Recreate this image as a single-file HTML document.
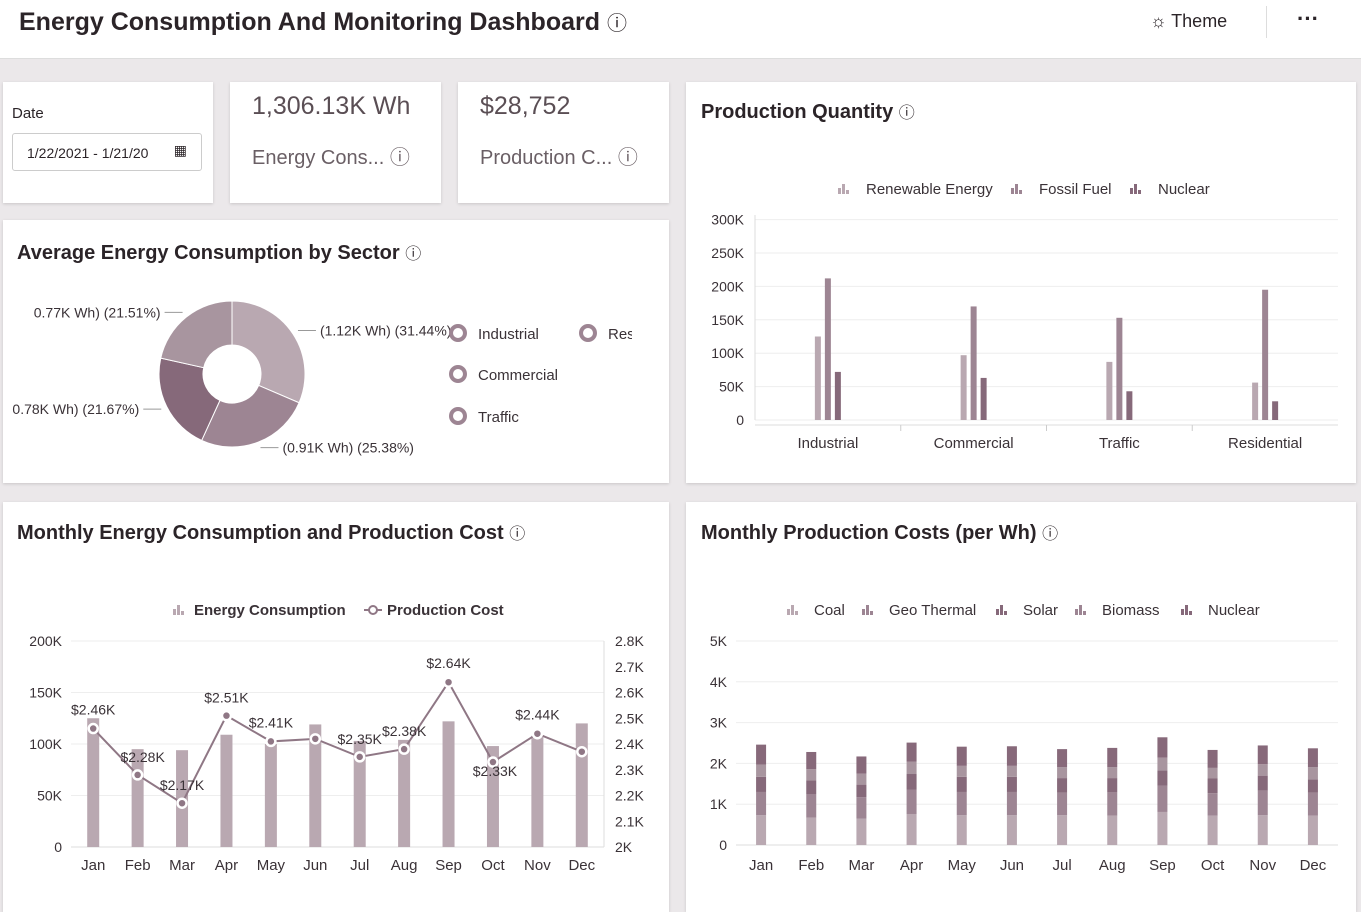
<!DOCTYPE html>
<html><head><meta charset="utf-8"><style>
body{margin:0;width:1361px;height:907px;background:#ebe8ea;font-family:"Liberation Sans",sans-serif;color:#2b2428;position:relative;overflow:hidden}
.card{position:absolute;background:#fff;box-shadow:0 1px 3px rgba(0,0,0,.15)}
.t{position:absolute;white-space:nowrap}
svg text{font-family:"Liberation Sans",sans-serif}
</style></head><body>
<div style="position:absolute;left:0;top:0;width:1361px;height:58px;background:#fff;border-bottom:1px solid #ddd"></div>
<div class="t" style="left:19px;top:7px;font-size:25px;font-weight:bold">Energy Consumption And Monitoring Dashboard <span style="font-weight:normal;font-size:20px">ⓘ</span></div>
<div class="t" style="left:1150px;top:11px;font-size:18px">☼ Theme</div>
<div style="position:absolute;left:1266px;top:6px;width:1px;height:32px;background:#ddd"></div>
<div class="t" style="left:1297px;top:6px;font-size:22px;font-weight:bold">···</div>

<div class="card" style="left:3px;top:82px;width:210px;height:121px"></div>
<div class="t" style="left:12px;top:105px;font-size:15px">Date</div>
<div style="position:absolute;left:12px;top:133px;width:190px;height:38px;border:1px solid #ccc;border-radius:3px;font-size:14px;line-height:38px;padding-left:14px;box-sizing:border-box;overflow:hidden">1/22/2021 - 1/21/20 <span style="position:absolute;right:14px;top:-3px">▦</span></div>

<div class="card" style="left:230px;top:82px;width:211px;height:121px"></div>
<div class="t" style="left:252px;top:92px;font-size:25px;color:#5a4e54">1,306.13K Wh</div>
<div class="t" style="left:252px;top:141px;font-size:20px;color:#6a5f65">Energy Cons... ⓘ</div>
<div class="card" style="left:458px;top:82px;width:211px;height:121px"></div>
<div class="t" style="left:480px;top:92px;font-size:25px;color:#5a4e54">$28,752</div>
<div class="t" style="left:480px;top:141px;font-size:20px;color:#6a5f65">Production C... ⓘ</div>

<div class="card" style="left:3px;top:220px;width:666px;height:263px"></div>
<div class="t" style="left:17px;top:240px;font-size:20px;font-weight:bold">Average Energy Consumption by Sector <span style="font-weight:normal;font-size:16px">ⓘ</span></div>
<div class="card" style="left:686px;top:82px;width:670px;height:401px"></div>
<div class="t" style="left:701px;top:99px;font-size:20px;font-weight:bold">Production Quantity <span style="font-weight:normal;font-size:16px">ⓘ</span></div>
<div class="card" style="left:3px;top:502px;width:666px;height:410px"></div>
<div class="t" style="left:17px;top:520px;font-size:20px;font-weight:bold">Monthly Energy Consumption and Production Cost <span style="font-weight:normal;font-size:16px">ⓘ</span></div>
<div class="card" style="left:686px;top:502px;width:670px;height:410px"></div>
<div class="t" style="left:701px;top:520px;font-size:20px;font-weight:bold">Monthly Production Costs (per Wh) <span style="font-weight:normal;font-size:16px">ⓘ</span></div>

<svg id="s" width="1361" height="907" style="position:absolute;left:0;top:0"></svg>
<script>
// Donut
const sectorNames=["Residential","Industrial","Commercial","Traffic"];
const sectorPct=[31.44,25.38,21.67,21.51];
const sectorLabels=["(1.12K Wh) (31.44%)","(0.91K Wh) (25.38%)","0.78K Wh) (21.67%)","0.77K Wh) (21.51%)"];
// Production quantity
const pqCats=["Industrial","Commercial","Traffic","Residential"];
const pqRenew=[125,97,87,56];
const pqFossil=[212,170,153,195];
const pqNuclear=[72,63,43,28];
const pqTicks=[0,50,100,150,200,250,300];
// Monthly
const months=["Jan","Feb","Mar","Apr","May","Jun","Jul","Aug","Sep","Oct","Nov","Dec"];
const energy=[125,95,94,109,100,119,103,104,122,98,108,120];
const cost=[2.46,2.28,2.17,2.51,2.41,2.42,2.35,2.38,2.64,2.33,2.44,2.37];
const leftTicks=[0,50,100,150,200];
const rightTicks=[2,2.1,2.2,2.3,2.4,2.5,2.6,2.7,2.8];
// Costs stacked (K)
const coal=[0.73,0.67,0.65,0.76,0.73,0.73,0.73,0.72,0.81,0.72,0.73,0.72];
const geo=[0.57,0.58,0.52,0.60,0.57,0.57,0.55,0.57,0.64,0.55,0.60,0.56];
const solar=[0.37,0.33,0.31,0.38,0.37,0.37,0.36,0.35,0.38,0.36,0.37,0.33];
const biomass=[0.30,0.28,0.27,0.30,0.27,0.27,0.27,0.27,0.31,0.26,0.28,0.30];
const nuclearC=[0.49,0.42,0.42,0.47,0.47,0.48,0.44,0.47,0.50,0.44,0.46,0.46];
const costTicks=[0,1,2,3,4,5];

const S=document.getElementById('s');const NS="http://www.w3.org/2000/svg";
function mk(tag,a,txt){const e=document.createElementNS(NS,tag);for(const k in a)e.setAttribute(k,a[k]);if(txt!=null)e.textContent=txt;S.appendChild(e);return e;}
const C1="#b9a8b1",C2="#9d8593",C3="#86697a",TX="#3a3237";

// donut
const cx=232,cy=374,R=73,r=29;const dcol=["#b9a8b1","#9d8593","#86697a","#a8959f"];
let ang=0;const tot=sectorPct.reduce((a,b)=>a+b,0);
sectorPct.forEach((p,i)=>{const a0=ang,a1=ang+p/tot*2*Math.PI;ang=a1;
 const P=(rr,a)=>[cx+rr*Math.sin(a),cy-rr*Math.cos(a)];const lg=a1-a0>Math.PI?1:0;
 const [x0,y0]=P(R,a0),[x1,y1]=P(R,a1),[x2,y2]=P(r,a1),[x3,y3]=P(r,a0);
 const e=mk('path',{d:`M${x0},${y0}A${R},${R} 0 ${lg} 1 ${x1},${y1}L${x2},${y2}A${r},${r} 0 ${lg} 0 ${x3},${y3}Z`,fill:dcol[i],stroke:"#fff","stroke-width":1});
 
 
 const am=(a0+a1)/2;const [lx,ly]=P(R+6,am);const right=Math.sin(am)>0;
 const ex=right?lx+18:lx-18;
 mk('polyline',{points:`${lx},${ly} ${ex},${ly}`,stroke:"#999",fill:"none"});
 const t=mk('text',{x:right?ex+4:ex-4,y:ly+5,"font-size":14,fill:TX,"text-anchor":right?"start":"end"},sectorLabels[i]);
 
 
});
[["Industrial",458,333],["Commercial",458,374],["Traffic",458,416],["Res",588,333]].forEach(([n,x,y])=>{
 const g=mk('circle',{cx:x,cy:y,r:7,fill:"none",stroke:C2,"stroke-width":4});
 
 
 const t=mk('text',{x:x+20,y:y+6,"font-size":15,fill:TX},n);
 
 
});
mk('rect',{x:632,y:320,width:36,height:30,fill:"#fff"});

function legendIcon(x,y,col){[[0,6],[4,10],[8,4]].forEach(([dx,h])=>mk('rect',{x:x+dx,y:y-h,width:3,height:h,fill:col}));}
// production quantity
const pL=755,pR=1338,py0=420,pk=0.668;const pY=v=>py0-v*pk;
pqTicks.forEach(t=>{mk('line',{x1:pL,x2:pR,y1:pY(t),y2:pY(t),stroke:"#eee"});const e=mk('text',{x:744,y:pY(t)+5,"font-size":14,fill:TX,"text-anchor":"end"},t?t+"K":"0");});
mk('line',{x1:pL,x2:pL,y1:py0,y2:215,stroke:"#ddd"});mk('line',{x1:pL,x2:pR,y1:py0+5,y2:py0+5,stroke:"#ddd"});
const pw=(pR-pL)/pqCats.length;
pqCats.forEach((c,i)=>{const xc=pL+pw*(i+0.5);
 [[pqRenew,C1,-10],[pqFossil,C2,0],[pqNuclear,C3,10]].forEach(([arr,col,dx])=>{const b=mk('rect',{x:xc+dx-3,y:pY(arr[i]),width:6,height:arr[i]*pk,fill:col});});
 const t=mk('text',{x:xc,y:448,"font-size":15,fill:TX,"text-anchor":"middle"},c);
 if(i>0)mk('line',{x1:pL+pw*i,x2:pL+pw*i,y1:py0+5,y2:py0+11,stroke:"#ccc"});
});
[["Renewable Energy",838,C1],["Fossil Fuel",1011,C2],["Nuclear",1130,C3]].forEach(([n,x,c])=>{legendIcon(x,194,c);const t=mk('text',{x:x+28,y:194,"font-size":15,fill:TX},n);});

// monthly combo
const mL=71,mR=604,m0=847,mTop=641;const mY=v=>m0-v/200*(m0-mTop);const cY=v=>m0-(v-2)/0.8*(m0-mTop);
leftTicks.forEach(t=>{mk('line',{x1:mL,x2:mR,y1:mY(t),y2:mY(t),stroke:"#eee"});const e=mk('text',{x:62,y:mY(t)+5,"font-size":14,fill:TX,"text-anchor":"end"},t?t+"K":"0");});
rightTicks.forEach(t=>{const e=mk('text',{x:615,y:cY(t)+5,"font-size":14,fill:TX},(Math.round(t*10)/10)+"K");});
mk('line',{x1:mL,x2:mR,y1:m0,y2:m0,stroke:"#ddd"});mk('line',{x1:mR,x2:mR,y1:m0,y2:mTop,stroke:"#ddd"});
const mw=(mR-mL)/months.length;let pts=[];
months.forEach((m,i)=>{const xc=mL+mw*(i+0.5);
 const b=mk('rect',{x:xc-6,y:mY(energy[i]),width:12,height:m0-mY(energy[i]),fill:C1});
 const t=mk('text',{x:xc,y:870,"font-size":15,fill:TX,"text-anchor":"middle"},m);
 pts.push([xc,cY(cost[i])]);
});
mk('polyline',{points:pts.map(p=>p.join(',')).join(' '),fill:"none",stroke:"#8f7785","stroke-width":2});
pts.forEach((p,i)=>{const c=mk('circle',{cx:p[0],cy:p[1],r:4.5,fill:"#8f7785",stroke:"#fff","stroke-width":2.5});
 if(i!==5&&i!==11){const t=mk('text',{x:p[0]+(i===1?5:i===9?2:0),y:p[1]-(i===0||i===4||i===8||i===10?14:i===9?-14:13),"font-size":14,fill:TX,"text-anchor":"middle"},"$"+cost[i].toFixed(2)+"K");}});
legendIcon(173,615,C1);let lt=mk('text',{x:194,y:615,"font-size":15,fill:TX,"font-weight":"bold"},"Energy Consumption");
mk('line',{x1:364,x2:382,y1:610,y2:610,stroke:"#8f7785","stroke-width":2});mk('circle',{cx:373,cy:610,r:4,fill:"#fff",stroke:"#8f7785","stroke-width":2});
lt=mk('text',{x:387,y:615,"font-size":15,fill:TX,"font-weight":"bold"},"Production Cost");

// costs stacked
const sL=736,sR=1338,s0=845,sTop=641;const sY=v=>s0-v/5*(s0-sTop);
costTicks.forEach(t=>{mk('line',{x1:sL,x2:sR,y1:sY(t),y2:sY(t),stroke:"#eee"});const e=mk('text',{x:727,y:sY(t)+5,"font-size":14,fill:TX,"text-anchor":"end"},t?t+"K":"0");});
mk('line',{x1:sL,x2:sR,y1:s0,y2:s0,stroke:"#ddd"});
const sw=(sR-sL)/months.length;const scol=["#b9a8b1","#9d8593","#86697a","#a8959f","#87697a"];
months.forEach((m,i)=>{const xc=sL+sw*(i+0.5);let acc=0;
 [coal,geo,solar,biomass,nuclearC].forEach((arr,k)=>{const b=mk('rect',{x:xc-5,y:sY(acc+arr[i]),width:10,height:sY(acc)-sY(acc+arr[i]),fill:scol[k]});acc+=arr[i];});
 const t=mk('text',{x:xc,y:870,"font-size":15,fill:TX,"text-anchor":"middle"},m);
});
[["Coal",787,C1],["Geo Thermal",862,C2],["Solar",996,C3],["Biomass",1075,C2],["Nuclear",1181,C3]].forEach(([n,x,c])=>{legendIcon(x,615,c);const t=mk('text',{x:x+27,y:615,"font-size":15,fill:TX},n);});
</script>
</body></html>
